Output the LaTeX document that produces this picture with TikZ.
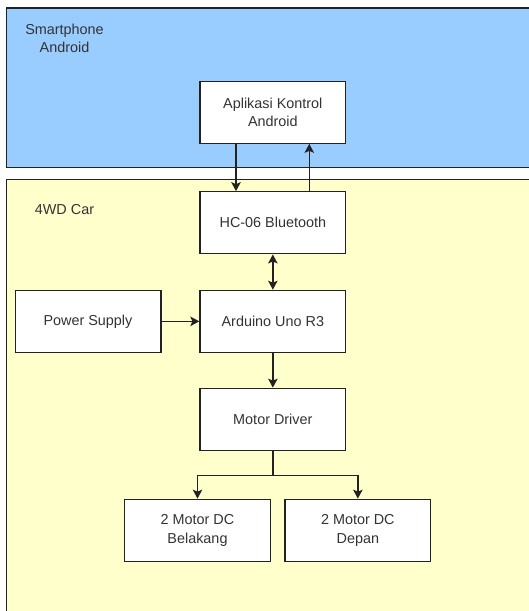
\documentclass[tikz,border=0pt]{standalone}
\usepackage{fontspec}
\setmainfont{Liberation Sans}
\usetikzlibrary{arrows.meta}
\definecolor{phoneblue}{HTML}{99CCFF}
\definecolor{caryellow}{HTML}{FFFFCC}
\definecolor{txt}{HTML}{333333}
\definecolor{edge}{HTML}{222222}
\tikzset{
  region/.style={draw=edge, line width=1.3pt, anchor=north west, inner sep=0pt},
  blockbox/.style={draw=edge, fill=white, line width=1.3pt, minimum width=145.7pt, minimum height=62pt,
    inner sep=0pt, align=center, text=txt, font=\fontsize{14.4}{18.4}\selectfont},
  lbl/.style={align=center, text=txt, inner sep=0pt, font=\fontsize{14.4}{18}\selectfont},
  tip/.style={},
  arr/.style={draw=edge, line width=1.3pt, -{Stealth[length=9pt,width=9.5pt,inset=2pt]}},
  biarr/.style={draw=edge, line width=1.3pt, {Stealth[length=9pt,width=9.5pt,inset=2pt]}-{Stealth[length=9pt,width=9.5pt,inset=2pt]}},
  line/.style={draw=edge, line width=1.3pt}
}
\begin{document}
\begin{tikzpicture}[x=1pt,y=-1pt]
\useasboundingbox (0,0) rectangle (529,611);
\clip (0,0) rectangle (529,611);
% regions
\node[region, fill=phoneblue, minimum width=540pt, minimum height=159.4pt] (phone) at (5.7,7.3) {};
\node[region, fill=caryellow, minimum width=540pt, minimum height=450pt] (car) at (5.7,179) {};
\node[lbl] (phonelbl) at (64.5,38) {Smartphone\\Android};
\node[lbl] (carlbl) at (64.5,210) {4WD Car};
% blocks
\node[blockbox] (apl) at (272.85,112.2) {Aplikasi Kontrol\\Android};
\node[blockbox] (hc) at (272.85,222.8) {HC-06 Bluetooth};
\node[blockbox] (ard) at (272.85,321.35) {Arduino Uno R3};
\node[blockbox] (ps) at (88,321.35) {Power Supply};
\node[blockbox] (md) at (272.85,419.3) {Motor Driver};
\node[blockbox] (mb) at (197.5,530.3) {2 Motor DC\\Belakang};
\node[blockbox] (mf) at (357.85,530.3) {2 Motor DC\\Depan};
% connectors
\draw[arr] ([xshift=-36.85pt]apl.south) -- ([xshift=-36.85pt]hc.north);
\draw[arr] ([xshift=36.45pt]hc.north) -- ([xshift=36.45pt]apl.south);
\draw[biarr] (hc.south) -- (ard.north);
\draw[arr] (ps.east) -- (ard.west);
\draw[arr] (ard.south) -- (md.north);
\coordinate (split) at ([yshift=-24.7pt]md.south);
\draw[line] (md.south) -- (split);
\draw[arr] (split) -| (mb.north);
\draw[arr] (split) -| (mf.north);
\end{tikzpicture}
\end{document}
